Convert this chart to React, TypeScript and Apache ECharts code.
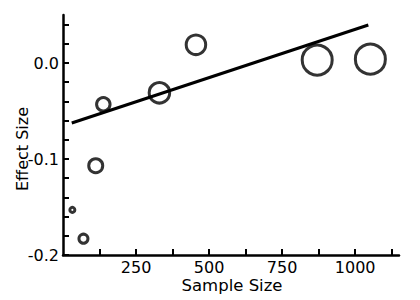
import React, { useEffect, useRef } from "react";
import * as echarts from "echarts";

const sampleSize = [32, 70, 112, 138, 330, 455, 870, 1052];
const effectSize = [-0.153, -0.183, -0.107, -0.043, -0.031, 0.019, 0.003, 0.004];
const markerSize = [5, 9, 14, 13.5, 20.5, 19.5, 30, 30];
const fitLine = [
  [30, -0.0625],
  [1045, 0.0396],
];
const xTicks = [125, 250, 375, 500, 625, 750, 875, 1000, 1125];
const xTickLabels = [250, 500, 750, 1000];
const yTicks = [-0.2, -0.18, -0.16, -0.14, -0.12, -0.1, -0.08, -0.06, -0.04, -0.02, 0, 0.02, 0.04];
const yTickLabels = [-0.2, -0.1, 0];

const FONT = "DejaVu Sans";

export default function App() {
  const ref = useRef<HTMLDivElement>(null);
  useEffect(() => {
    const chart = echarts.init(ref.current!, null, { renderer: "svg" });
    const points = sampleSize.map((x, i) => ({
      value: [x, effectSize[i]],
      symbolSize: markerSize[i],
    }));
    chart.setOption({
      animation: false,
      backgroundColor: "#ffffff",
      grid: { left: 63, right: 21, top: 15, bottom: 45, containLabel: false },
      xAxis: {
        type: "value",
        min: 0,
        max: 1150,
        splitLine: { show: false },
        axisLine: { show: true, onZero: false, lineStyle: { color: "#000", width: 2.5 } },
        axisTick: { show: true, inside: true, length: 6, customValues: xTicks, lineStyle: { color: "#000", width: 2 } },
        axisLabel: {
          customValues: xTickLabels,
          color: "#000",
          fontFamily: FONT,
          fontSize: 16,
          margin: 4,
          formatter: (v: number) => String(v),
        },
      },
      yAxis: {
        type: "value",
        min: -0.2,
        max: 0.05,
        splitLine: { show: false },
        axisLine: { show: true, onZero: false, lineStyle: { color: "#000", width: 2.5 } },
        axisTick: { show: true, inside: true, length: 6, customValues: yTicks, lineStyle: { color: "#000", width: 2 } },
        axisLabel: {
          customValues: yTickLabels,
          color: "#000",
          fontFamily: FONT,
          fontSize: 16,
          margin: 4,
          formatter: (v: number) => v.toFixed(1),
        },
      },
      graphic: [
        {
          type: "text",
          x: 232,
          y: 285.5,
          style: {
            text: "Sample Size",
            fontFamily: FONT,
            fontSize: 16.5,
            fill: "#000",
            textAlign: "center",
            textVerticalAlign: "middle",
          },
        },
        {
          type: "text",
          x: 22,
          y: 149,
          rotation: Math.PI / 2,
          style: {
            text: "Effect Size",
            fontFamily: FONT,
            fontSize: 16,
            fill: "#000",
            textAlign: "center",
            textVerticalAlign: "middle",
          },
        },
      ],
      series: [
        {
          type: "line",
          data: fitLine,
          showSymbol: false,
          symbol: "none",
          lineStyle: { color: "#000", width: 3 },
          z: 2,
        },
        {
          type: "scatter",
          data: points,
          symbol: "circle",
          itemStyle: { color: "transparent", borderColor: "#000", borderWidth: 3 },
          z: 3,
        },
      ],
    });
    return () => chart.dispose();
  }, []);
  return <div ref={ref} style={{ width: 420, height: 300, position: "absolute", left: 0, top: 0 }} />;
}
